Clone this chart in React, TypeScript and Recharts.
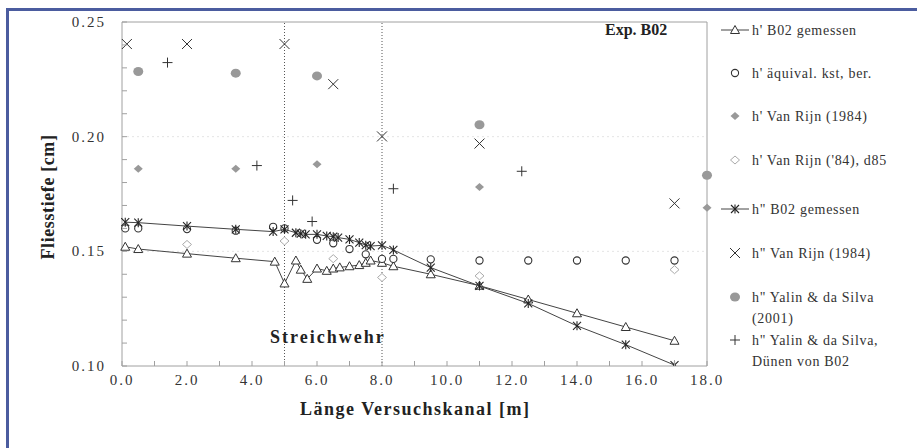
import React from "react";
import {ScatterChart, Scatter, XAxis, YAxis, ReferenceLine} from "recharts";

// h' B02 gemessen (triangles, line)
const hB02X = [0.1, 0.5, 2.0, 3.5, 4.7, 5.0, 5.35, 5.5, 5.7, 6.0, 6.3, 6.5, 6.7, 7.0, 7.3, 7.5, 7.65, 8.0, 8.35, 9.5, 11.0, 12.5, 14.0, 15.5, 17.0];
const hB02Y = [0.152, 0.151, 0.149, 0.147, 0.1455, 0.136, 0.146, 0.142, 0.138, 0.1425, 0.1415, 0.1425, 0.143, 0.1435, 0.144, 0.145, 0.146, 0.145, 0.1435, 0.140, 0.135, 0.129, 0.123, 0.117, 0.111];

// h' äquival. kst, ber. (open circles)
const kstX = [0.1, 0.5, 2.0, 3.5, 4.65, 5.0, 6.0, 6.5, 7.0, 7.5, 8.0, 8.35, 9.5, 11.0, 12.5, 14.0, 15.5, 17.0];
const kstY = [0.16, 0.16, 0.1597, 0.159, 0.1607, 0.16, 0.155, 0.1535, 0.151, 0.1487, 0.1467, 0.1467, 0.1465, 0.146, 0.146, 0.146, 0.146, 0.146];

// h' Van Rijn (1984) (grey diamonds)
const vr84X = [0.5, 3.5, 6.0, 11.0, 18.0];
const vr84Y = [0.186, 0.186, 0.188, 0.178, 0.169];

// h' Van Rijn ('84), d85 (open diamonds)
const d85X = [2.0, 5.0, 6.5, 8.0, 11.0, 17.0];
const d85Y = [0.153, 0.1545, 0.1468, 0.1386, 0.1393, 0.142];

// h" B02 gemessen (asterisks, line)
const h2B02X = [0.1, 0.5, 2.0, 3.5, 4.65, 5.0, 5.35, 5.5, 5.65, 6.0, 6.3, 6.5, 6.65, 7.0, 7.3, 7.5, 7.65, 8.0, 8.35, 9.5, 11.0, 12.5, 14.0, 15.5, 17.0];
const h2B02Y = [0.1627, 0.1625, 0.161, 0.1596, 0.1586, 0.1596, 0.1581, 0.1577, 0.1574, 0.1574, 0.1567, 0.1564, 0.156, 0.1552, 0.1538, 0.1527, 0.1523, 0.1526, 0.1506, 0.1429, 0.1349, 0.1273, 0.1175, 0.1093, 0.1004];

// h" Van Rijn (1984) (crosses)
const vr2X = [0.15, 2.0, 5.0, 6.5, 8.0, 11.0, 17.0];
const vr2Y = [0.2404, 0.2404, 0.2404, 0.2229, 0.2001, 0.197, 0.1709];

// h" Yalin & da Silva (2001) (grey circles)
const ydsX = [0.5, 3.5, 6.0, 11.0, 18.0];
const ydsY = [0.2284, 0.2277, 0.2265, 0.2052, 0.1832];

// h" Yalin & da Silva, Dünen von B02 (plus)
const dunX = [1.4, 4.15, 5.25, 5.85, 8.35, 12.3];
const dunY = [0.2323, 0.1874, 0.1722, 0.163, 0.1773, 0.1849];

const xTicks = [0, 1, 2, 3, 4, 5, 6, 7, 8, 9, 10, 11, 12, 13, 14, 15, 16, 17, 18];
const yTicks = [0.10, 0.11, 0.12, 0.13, 0.14, 0.15, 0.16, 0.17, 0.18, 0.19, 0.20, 0.21, 0.22, 0.23, 0.24, 0.25];
const gridY = [0.15, 0.20];
const weirX = [5.0, 8.0];

const legendItems = [
    {label: ["h' B02 gemessen"], sym: 'tri', y: 30},
    {label: ["h' äquival. kst, ber."], sym: 'circ', y: 73},
    {label: ["h' Van Rijn (1984)"], sym: 'gdia', y: 116},
    {label: ["h' Van Rijn ('84), d85"], sym: 'odia', y: 160},
    {label: ['h" B02 gemessen'], sym: 'ast', y: 209},
    {label: ['h" Van Rijn (1984)'], sym: 'x', y: 253},
    {label: ['h" Yalin & da Silva', '(2001)'], sym: 'gcirc', y: 297},
    {label: ['h" Yalin & da Silva,', 'Dünen von B02'], sym: 'plus', y: 340},
];

const zip = (xs: number[], ys: number[]) => xs.map((x, i) => ({x, y: ys[i]}));

const FONT = "'Liberation Serif', 'DejaVu Serif', serif";
const AXIS = '#a0a0a0';
const txt = {fontFamily: FONT};

const Tri = ({cx, cy}: any) => (
    <path d={`M${cx},${cy - 4.5}L${cx + 4.5},${cy + 3.5}L${cx - 4.5},${cy + 3.5}Z`} fill="#fff" stroke="#333" strokeWidth={1}/>
);
const Circ = ({cx, cy}: any) => <circle cx={cx} cy={cy} r={3.6} fill="#fff" stroke="#333" strokeWidth={1.1}/>;
const GDia = ({cx, cy}: any) => (
    <path d={`M${cx},${cy - 4}L${cx + 4.5},${cy}L${cx},${cy + 4}L${cx - 4.5},${cy}Z`} fill="#999"/>
);
const ODia = ({cx, cy}: any) => (
    <path d={`M${cx},${cy - 4}L${cx + 4.5},${cy}L${cx},${cy + 4}L${cx - 4.5},${cy}Z`} fill="#fff" stroke="#aaa" strokeWidth={1}/>
);
const Ast = ({cx, cy}: any) => (
    <g stroke="#222" strokeWidth={1.1}>
        <line x1={cx - 4} y1={cy - 4} x2={cx + 4} y2={cy + 4}/>
        <line x1={cx - 4} y1={cy + 4} x2={cx + 4} y2={cy - 4}/>
        <line x1={cx} y1={cy - 4.5} x2={cx} y2={cy + 4.5}/>
    </g>
);
const Cross = ({cx, cy}: any) => (
    <g stroke="#333" strokeWidth={1}>
        <line x1={cx - 5} y1={cy - 5} x2={cx + 5} y2={cy + 5}/>
        <line x1={cx - 5} y1={cy + 5} x2={cx + 5} y2={cy - 5}/>
    </g>
);
const GCirc = ({cx, cy}: any) => <ellipse cx={cx} cy={cy} rx={5} ry={4.5} fill="#999"/>;
const Plus = ({cx, cy}: any) => (
    <g stroke="#333" strokeWidth={1}>
        <line x1={cx - 5} y1={cy} x2={cx + 5} y2={cy}/>
        <line x1={cx} y1={cy - 5} x2={cx} y2={cy + 5}/>
    </g>
);

const symbols: Record<string, any> = {tri: Tri, circ: Circ, gdia: GDia, odia: ODia, ast: Ast, x: Cross, gcirc: GCirc, plus: Plus};

const XTick = (props: any) => {
    const {x, y, payload} = props;
    const v = payload.value;
    const major = Math.round(v) % 2 === 0;
    return (
        <g>
            <line x1={x} x2={x} y1={y} y2={y - 5} stroke={AXIS}/>
            {major && <text x={x} y={y + 19} textAnchor="middle" style={txt} fontSize={15}
                            letterSpacing={2} fill="#333">{v.toFixed(1)}</text>}
        </g>
    );
};

const YTick = (props: any) => {
    const {x, y, payload} = props;
    const v = payload.value;
    const major = Math.abs(v * 20 - Math.round(v * 20)) < 1e-6;
    return (
        <g>
            <line x1={x} x2={x + 5} y1={y} y2={y} stroke={AXIS}/>
            {major && <text x={x - 16} y={y + 5} textAnchor="end" style={txt} fontSize={15}
                            letterSpacing={2} fill="#333">{v.toFixed(2)}</text>}
        </g>
    );
};

const Legend = () => (
    <svg width={210} height={448} style={{position: 'absolute', left: 707, top: 0}}>
        {legendItems.map((it, i) => {
            const S = symbols[it.sym];
            const hasLine = it.sym === 'tri' || it.sym === 'ast';
            return (
                <g key={i}>
                    {hasLine && <line x1={14} x2={42} y1={it.y} y2={it.y} stroke="#444"/>}
                    <S cx={28} cy={it.y}/>
                    {it.label.map((t, j) => (
                        <text key={j} x={45} y={it.y + 5 + j * 21} style={txt} fontSize={14}
                              letterSpacing={0.7} fill="#333">{t}</text>
                    ))}
                </g>
            );
        })}
    </svg>
);

const App = () => {
    return (
        <div style={{position: 'absolute', left: 0, top: 0, width: 917, height: 448, background: '#fff', overflow: 'hidden'}}>
            <div style={{position: 'absolute', left: 6, top: 8, width: 911, height: 440, borderLeft: '3px solid #4b5c9f', borderTop: '3px solid #4b5c9f'}}/>
            <ScatterChart width={917} height={448} margin={{top: 22, right: 210, bottom: 52, left: 0}}
                          style={{position: 'absolute', left: 0, top: 0}}>
                <XAxis type="number" dataKey="x" domain={[0, 18]} ticks={xTicks} interval={0} height={30}
                       tickSize={0} tickMargin={0} tick={<XTick/>} axisLine={{stroke: AXIS}} tickLine={false}/>
                <YAxis type="number" dataKey="y" domain={[0.1, 0.25]} ticks={yTicks} interval={0} width={122}
                       tickSize={0} tickMargin={0} tick={<YTick/>} axisLine={{stroke: AXIS}} tickLine={false}
                       allowDataOverflow/>
                {gridY.map((g) => (
                    <ReferenceLine key={g} y={g} stroke="#e4e4e4" strokeDasharray="2 3"/>
                ))}
                <ReferenceLine y={0.25} stroke={AXIS}/>
                <ReferenceLine x={18} stroke={AXIS}/>
                {weirX.map((w) => (
                    <ReferenceLine key={w} x={w} stroke="#555" strokeDasharray="1 2"/>
                ))}
                <Scatter data={zip(hB02X, hB02Y)} shape={Tri} line={{stroke: '#444', strokeWidth: 1}} isAnimationActive={false}/>
                <Scatter data={zip(kstX, kstY)} shape={Circ} isAnimationActive={false}/>
                <Scatter data={zip(vr84X, vr84Y)} shape={GDia} isAnimationActive={false}/>
                <Scatter data={zip(d85X, d85Y)} shape={ODia} isAnimationActive={false}/>
                <Scatter data={zip(h2B02X, h2B02Y)} shape={Ast} line={{stroke: '#444', strokeWidth: 1}} isAnimationActive={false}/>
                <Scatter data={zip(vr2X, vr2Y)} shape={Cross} isAnimationActive={false}/>
                <Scatter data={zip(ydsX, ydsY)} shape={GCirc} isAnimationActive={false}/>
                <Scatter data={zip(dunX, dunY)} shape={Plus} isAnimationActive={false}/>
            </ScatterChart>
            <div style={{position: 'absolute', left: 605, top: 21, fontFamily: FONT, fontWeight: 'bold', fontSize: 16, color: '#222'}}>Exp. B02</div>
            <div style={{position: 'absolute', left: 270, top: 327, fontFamily: FONT, fontWeight: 'bold', fontSize: 18, letterSpacing: 2, color: '#222'}}>Streichwehr</div>
            <div style={{position: 'absolute', left: 300, top: 399, fontFamily: FONT, fontWeight: 'bold', fontSize: 18, letterSpacing: 1.5, color: '#222'}}>Länge Versuchskanal [m]</div>
            <div style={{position: 'absolute', left: 48, top: 197, transform: 'translate(-50%, -50%) rotate(-90deg)', whiteSpace: 'nowrap', fontFamily: FONT, fontWeight: 'bold', fontSize: 18, letterSpacing: 0.6, color: '#222'}}>Fliesstiefe [cm]</div>
            <Legend/>
        </div>
    );
};

export default App;
